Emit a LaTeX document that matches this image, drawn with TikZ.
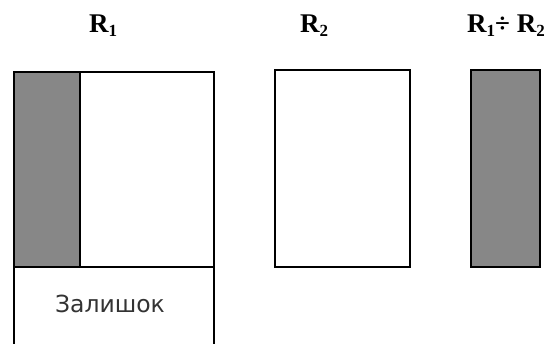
\documentclass[tikz,border=0pt]{standalone}
\usepackage{fontspec}
\setmainfont{Liberation Serif}
\newfontfamily\labelfont{DejaVu Sans}
\newcommand{\sbx}[1]{\raisebox{-0.15em}{\fontsize{17}{17}\selectfont #1}}
\begin{document}
\begin{tikzpicture}[x=1pt,y=-1pt,
  box/.style={draw=black,line width=2.2pt},
  shade/.style={fill=black!47},
  title/.style={font=\bfseries\fontsize{27}{27}\selectfont,inner sep=0pt,anchor=base},
  rest/.style={font=\labelfont\fontsize{23.5}{23.5}\selectfont,text=black!80,inner sep=0pt,anchor=base}]
\useasboundingbox (0,0) rectangle (549,343);
% R1
\fill[shade] (14,72) rectangle (80,267);
\draw[box] (14,346) -- (14,72) -- (214,72) -- (214,346);
\draw[line width=1.5pt] (80,72) -- (80,267);
\draw[box] (14,267) -- (214,267);
\node[rest] (rem) at (110,312) {Залишок};
% R2
\draw[box] (275,70) rectangle (410,267);
% quotient
\draw[line width=1.2pt,shade] (471,70) rectangle (540,267);
% titles
\node[title] (t1) at (103,32) {R\sbx{1}};
\node[title] (t2) at (314,32) {R\sbx{2}};
\node[title] (t3) at (506,32) {R\sbx{1}÷ R\sbx{2}};
\end{tikzpicture}
\end{document}
